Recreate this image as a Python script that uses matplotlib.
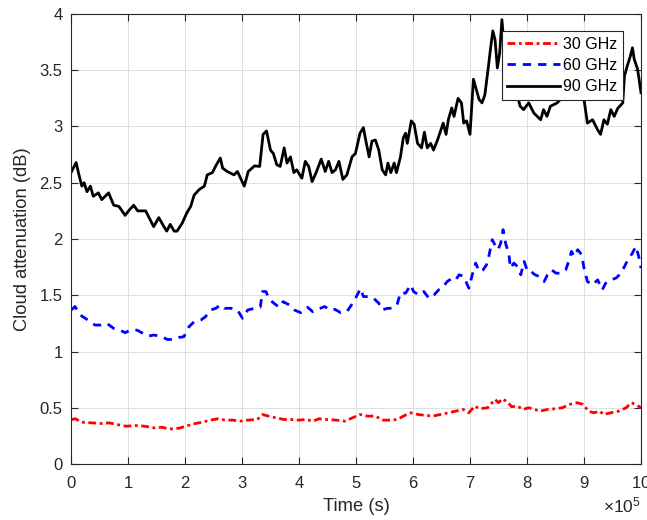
import matplotlib
matplotlib.use("Agg")
import matplotlib.pyplot as plt
from matplotlib.ticker import ScalarFormatter
import numpy as np

plt.rcParams['font.family'] = ['Liberation Sans', 'DejaVu Sans']
plt.rcParams['mathtext.fontset'] = 'custom'
plt.rcParams['mathtext.rm'] = 'Liberation Sans'
plt.rcParams['mathtext.fallback'] = 'stixsans'

# Time stamps (units of 1e5 s) and attenuation samples for each frequency
t90 = [0.00, 0.09, 0.13, 0.19, 0.23, 0.28, 0.34, 0.39, 0.48, 0.54, 0.66, 0.75, 0.84, 0.95,
       1.01, 1.10, 1.17, 1.31, 1.36, 1.45, 1.54, 1.63, 1.68, 1.74, 1.81, 1.86, 1.95,
       2.03, 2.10, 2.16, 2.25, 2.34, 2.39, 2.48, 2.54, 2.62, 2.66, 2.74, 2.86, 2.92,
       3.04, 3.11, 3.22, 3.31, 3.37, 3.43, 3.50, 3.55, 3.61, 3.67, 3.74, 3.79, 3.85,
       3.91, 3.96, 4.05, 4.11, 4.17, 4.23, 4.30, 4.39, 4.46, 4.52, 4.58, 4.64, 4.70,
       4.77, 4.84, 4.93, 4.99, 5.07, 5.13, 5.17, 5.23, 5.28, 5.34, 5.40, 5.46, 5.52,
       5.56, 5.61, 5.67, 5.71, 5.78, 5.83, 5.87, 5.90, 5.97, 6.02, 6.08, 6.15, 6.20,
       6.25, 6.31, 6.36, 6.43, 6.49, 6.53, 6.58, 6.62, 6.68, 6.72, 6.79, 6.85, 6.89,
       6.94, 7.00, 7.06, 7.12, 7.16, 7.21, 7.26, 7.32, 7.35, 7.40, 7.44, 7.48, 7.52,
       7.56, 7.60, 7.65, 7.70, 7.76, 7.82, 7.88, 7.94, 8.03, 8.12, 8.24, 8.29, 8.35,
       8.41, 8.53, 8.60, 8.68, 8.74, 8.78, 8.84, 8.90, 8.96, 9.00, 9.06, 9.15, 9.24,
       9.29, 9.35, 9.41, 9.47, 9.53, 9.59, 9.68, 9.71, 9.76, 9.81, 9.85, 9.88, 9.94, 10.0]
a90 = [2.59, 2.68, 2.59, 2.47, 2.50, 2.42, 2.47, 2.38, 2.41, 2.35, 2.41, 2.30, 2.29, 2.21,
       2.25, 2.30, 2.25, 2.25, 2.20, 2.11, 2.19, 2.11, 2.07, 2.13, 2.07, 2.07, 2.14,
       2.23, 2.29, 2.39, 2.44, 2.47, 2.57, 2.59, 2.65, 2.72, 2.63, 2.60, 2.57, 2.60,
       2.47, 2.60, 2.65, 2.645, 2.93, 2.96, 2.79, 2.76, 2.66, 2.645, 2.81, 2.675, 2.73,
       2.59, 2.615, 2.54, 2.69, 2.645, 2.51, 2.59, 2.71, 2.60, 2.69, 2.59, 2.615, 2.69,
       2.53, 2.57, 2.73, 2.76, 2.94, 2.99, 2.88, 2.73, 2.87, 2.88, 2.79, 2.615, 2.57,
       2.675, 2.59, 2.675, 2.59, 2.73, 2.90, 2.94, 2.85, 3.05, 3.02, 2.85, 2.81, 2.95,
       2.81, 2.85, 2.79, 2.88, 2.97, 3.03, 2.93, 3.06, 3.165, 3.09, 3.25, 3.21, 3.03,
       3.05, 2.93, 3.42, 3.31, 3.24, 3.21, 3.28, 3.52, 3.65, 3.85, 3.77, 3.52, 3.65,
       3.95, 3.70, 3.55, 3.30, 3.40, 3.30, 3.18, 3.15, 3.21, 3.12, 3.06, 3.15, 3.09,
       3.18, 3.21, 3.25, 3.30, 3.45, 3.60, 3.50, 3.62, 3.50, 3.24, 3.03, 3.06, 2.97,
       2.93, 3.06, 3.02, 3.15, 3.09, 3.16, 3.21, 3.45, 3.54, 3.62, 3.70, 3.60, 3.51, 3.30]

t60 = [0.01, 0.07, 0.16, 0.25, 0.34, 0.42, 0.51, 0.63, 0.75, 0.86, 0.95, 1.04, 1.16, 1.24,
       1.36, 1.45, 1.57, 1.69, 1.78, 1.89, 1.98, 2.07, 2.16, 2.28, 2.36, 2.45, 2.54,
       2.62, 2.69, 2.81, 2.92, 3.01, 3.10, 3.22, 3.32, 3.36, 3.42, 3.48, 3.56, 3.65,
       3.72, 3.83, 3.92, 4.03, 4.15, 4.24, 4.33, 4.45, 4.54, 4.63, 4.73, 4.84, 4.96,
       5.08, 5.13, 5.22, 5.31, 5.40, 5.46, 5.55, 5.63, 5.72, 5.78, 5.87, 5.96, 6.01,
       6.10, 6.19, 6.28, 6.37, 6.45, 6.51, 6.60, 6.69, 6.75, 6.81, 6.89, 6.98, 7.04,
       7.10, 7.16, 7.23, 7.29, 7.33, 7.39, 7.45, 7.49, 7.54, 7.58, 7.63, 7.68, 7.71,
       7.77, 7.83, 7.89, 7.95, 8.01, 8.07, 8.14, 8.21, 8.30, 8.36, 8.43, 8.51, 8.59,
       8.68, 8.74, 8.78, 8.83, 8.89, 8.96, 9.00, 9.06, 9.15, 9.24, 9.32, 9.38, 9.47,
       9.56, 9.65, 9.74, 9.79, 9.85, 9.91, 9.96, 10.0]
a60 = [1.37, 1.40, 1.325, 1.295, 1.265, 1.235, 1.235, 1.25, 1.205, 1.19, 1.167, 1.19, 1.19, 1.167,
       1.137, 1.146, 1.137, 1.107, 1.107, 1.125, 1.131, 1.22, 1.265, 1.28, 1.31, 1.369, 1.384,
       1.414, 1.384, 1.384, 1.369, 1.295, 1.369, 1.384, 1.393, 1.533, 1.533, 1.464, 1.429, 1.393,
       1.443, 1.414, 1.369, 1.345, 1.393, 1.354, 1.375, 1.40, 1.369, 1.375, 1.345, 1.354, 1.443,
       1.56, 1.488, 1.488, 1.473, 1.429, 1.369, 1.384, 1.384, 1.414, 1.524, 1.518, 1.592, 1.533,
       1.503, 1.533, 1.473, 1.503, 1.548, 1.563, 1.622, 1.652, 1.637, 1.682, 1.667, 1.563, 1.682,
       1.786, 1.711, 1.726, 1.771, 1.845, 1.994, 1.935, 1.905, 1.964, 2.083, 1.95, 1.875, 1.741,
       1.786, 1.756, 1.682, 1.80, 1.711, 1.711, 1.682, 1.667, 1.622, 1.682, 1.726, 1.696, 1.696,
       1.726, 1.815, 1.89, 1.845, 1.905, 1.86, 1.741, 1.622, 1.592, 1.637, 1.548, 1.607, 1.637,
       1.652, 1.696, 1.786, 1.83, 1.875, 1.935, 1.845, 1.741]

t30 = [0.01, 0.08, 0.18, 0.34, 0.54, 0.67, 0.80, 0.97, 1.13, 1.29, 1.46, 1.59, 1.72, 1.82,
       1.92, 2.05, 2.18, 2.31, 2.44, 2.58, 2.71, 2.84, 2.97, 3.10, 3.27, 3.36, 3.46,
       3.59, 3.73, 3.86, 3.99, 4.12, 4.25, 4.35, 4.48, 4.65, 4.81, 4.94, 5.07, 5.20,
       5.34, 5.47, 5.60, 5.73, 5.83, 5.96, 6.09, 6.22, 6.35, 6.48, 6.62, 6.75, 6.88,
       6.98, 7.08, 7.17, 7.31, 7.44, 7.50, 7.57, 7.67, 7.73, 7.83, 7.93, 8.03, 8.13,
       8.23, 8.36, 8.49, 8.62, 8.75, 8.88, 8.98, 9.08, 9.17, 9.28, 9.34, 9.47, 9.61,
       9.74, 9.83, 9.90, 10.0]
a30 = [0.396, 0.402, 0.372, 0.366, 0.360, 0.366, 0.351, 0.336, 0.342, 0.336, 0.321, 0.327, 0.3125, 0.3125,
       0.321, 0.342, 0.360, 0.372, 0.390, 0.402, 0.390, 0.390, 0.381, 0.390, 0.396, 0.440, 0.426,
       0.411, 0.396, 0.396, 0.390, 0.396, 0.381, 0.402, 0.396, 0.390, 0.381, 0.411, 0.440, 0.426,
       0.426, 0.390, 0.390, 0.396, 0.426, 0.455, 0.440, 0.432, 0.426, 0.440, 0.455, 0.470, 0.485,
       0.455, 0.515, 0.491, 0.500, 0.574, 0.545, 0.580, 0.545, 0.509, 0.515, 0.485, 0.500, 0.485,
       0.470, 0.485, 0.491, 0.500, 0.530, 0.545, 0.530, 0.470, 0.455, 0.470, 0.440, 0.455, 0.470,
       0.500, 0.545, 0.530, 0.500]

labels = ['30 GHz', '60 GHz', '90 GHz']
x_ticks = np.arange(0, 11) * 1e5
y_ticks = np.arange(0, 4.01, 0.5)

edge = '#262626'

fig = plt.figure(figsize=(6.47, 5.20), dpi=100)
ax = fig.add_axes([71 / 647, 56 / 520, 570 / 647, 450 / 520])

ax.plot(np.array(t30) * 1e5, a30, color=(1, 0, 0), lw=2,
        linestyle=(0, (2.8, 1.3, 1.0, 1.3)), label=labels[0])
ax.plot(np.array(t60) * 1e5, a60, color=(0, 0, 1), lw=2,
        linestyle=(0, (3.0, 2.5)), label=labels[1])
ax.plot(np.array(t90) * 1e5, a90, color='black', lw=2,
        linestyle='-', label=labels[2])

ax.set_xlim(0, 1e6)
ax.set_ylim(0, 4)
ax.set_xticks(x_ticks)
ax.set_yticks(y_ticks)

# fixed 1e5 exponent for the time axis
fmt = ScalarFormatter(useMathText=True)
fmt.set_powerlimits((5, 5))
ax.xaxis.set_major_formatter(fmt)
ax.yaxis.set_major_formatter(plt.FuncFormatter(lambda v, p: f'{v:g}'))

ax.grid(True, color='#dfdfdf', lw=0.7)
ax.set_axisbelow(True)
for s in ax.spines.values():
    s.set_color(edge)
    s.set_linewidth(0.8)
ax.tick_params(direction='in', length=5, width=0.8, colors=edge,
               top=True, right=True, labelsize=12)
ax.tick_params(axis='x', pad=8)
ax.tick_params(axis='y', pad=6)
ax.xaxis.get_offset_text().set_fontsize(12.5)
ax.xaxis.get_offset_text().set_color(edge)

ax.set_xlabel('Time (s)', fontsize=13.2, color=edge, labelpad=5)
ax.set_ylabel('Cloud attenuation (dB)', fontsize=13.2, color=edge, labelpad=6)

leg = ax.legend(loc='upper right', bbox_to_anchor=(0.968, 0.962), borderaxespad=0,
                fontsize=11.5, handlelength=3.3, handletextpad=0.2, borderpad=0.35,
                labelspacing=0.4, fancybox=False, framealpha=1, edgecolor=edge)
leg.get_frame().set_linewidth(0.8)
for t in leg.get_texts():
    t.set_color('black')

fig.savefig('out.png', dpi=100)
